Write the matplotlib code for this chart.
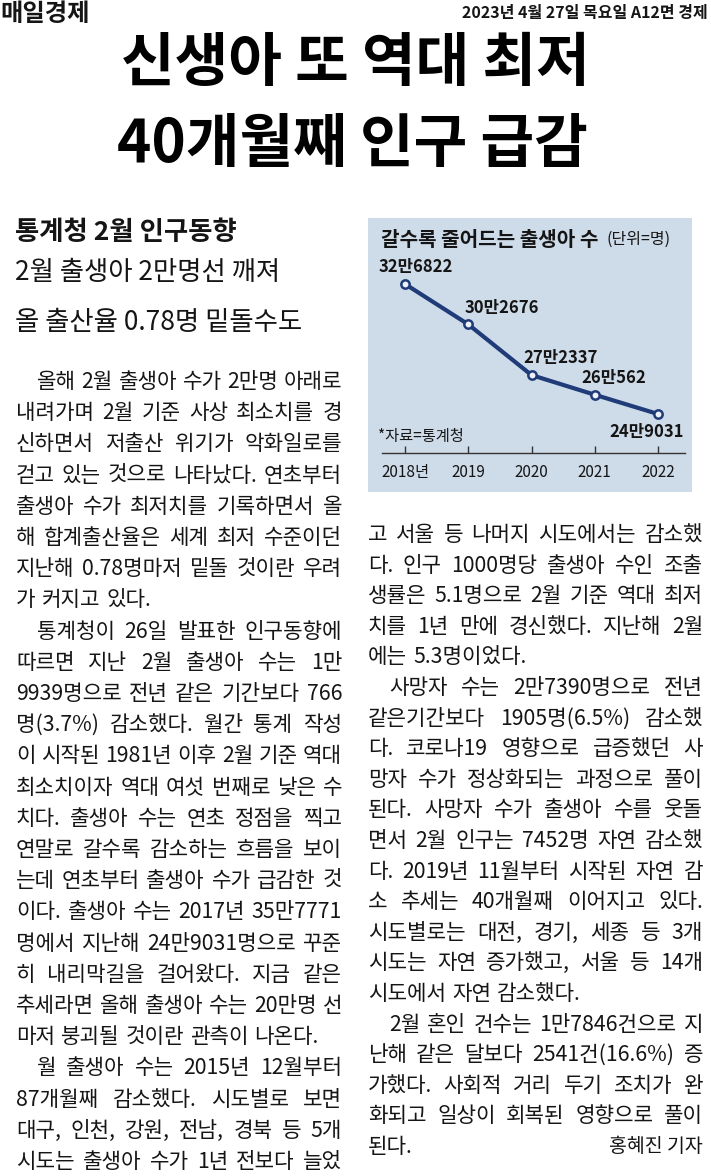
import matplotlib
matplotlib.use("Agg")
import matplotlib.pyplot as plt
from matplotlib.patches import Rectangle

plt.rcParams["font.family"] = ["Noto Sans CJK KR", "DejaVu Sans"]

# 차트 데이터 (단위=명)
years = [2018, 2019, 2020, 2021, 2022]
year_labels = ["2018년", "2019", "2020", "2021", "2022"]
births = [326822, 302676, 272337, 260562, 249031]
birth_labels = ["32만6822", "30만2676", "27만2337", "26만562", "24만9031"]

# 기사 본문 (단락 단위, 신문 줄바꿈 그대로)
left_paragraphs = [
    ["올해 2월 출생아 수가 2만명 아래로",
     "내려가며 2월 기준 사상 최소치를 경",
     "신하면서 저출산 위기가 악화일로를",
     "걷고 있는 것으로 나타났다. 연초부터",
     "출생아 수가 최저치를 기록하면서 올",
     "해 합계출산율은 세계 최저 수준이던",
     "지난해 0.78명마저 밑돌 것이란 우려",
     "가 커지고 있다."],
    ["통계청이 26일 발표한 인구동향에",
     "따르면 지난 2월 출생아 수는 1만",
     "9939명으로 전년 같은 기간보다 766",
     "명(3.7%) 감소했다. 월간 통계 작성",
     "이 시작된 1981년 이후 2월 기준 역대",
     "최소치이자 역대 여섯 번째로 낮은 수",
     "치다. 출생아 수는 연초 정점을 찍고",
     "연말로 갈수록 감소하는 흐름을 보이",
     "는데 연초부터 출생아 수가 급감한 것",
     "이다. 출생아 수는 2017년 35만7771",
     "명에서 지난해 24만9031명으로 꾸준",
     "히 내리막길을 걸어왔다. 지금 같은",
     "추세라면 올해 출생아 수는 20만명 선",
     "마저 붕괴될 것이란 관측이 나온다."],
    ["월 출생아 수는 2015년 12월부터",
     "87개월째 감소했다. 시도별로 보면",
     "대구, 인천, 강원, 전남, 경북 등 5개",
     "시도는 출생아 수가 1년 전보다 늘었"],
]
right_paragraphs = [
    ["고 서울 등 나머지 시도에서는 감소했",
     "다. 인구 1000명당 출생아 수인 조출",
     "생률은 5.1명으로 2월 기준 역대 최저",
     "치를 1년 만에 경신했다. 지난해 2월",
     "에는 5.3명이었다."],
    ["사망자 수는 2만7390명으로 전년",
     "같은기간보다 1905명(6.5%) 감소했",
     "다. 코로나19 영향으로 급증했던 사",
     "망자 수가 정상화되는 과정으로 풀이",
     "된다. 사망자 수가 출생아 수를 웃돌",
     "면서 2월 인구는 7452명 자연 감소했",
     "다. 2019년 11월부터 시작된 자연 감",
     "소 추세는 40개월째 이어지고 있다.",
     "시도별로는 대전, 경기, 세종 등 3개",
     "시도는 자연 증가했고, 서울 등 14개",
     "시도에서 자연 감소했다."],
    ["2월 혼인 건수는 1만7846건으로 지",
     "난해 같은 달보다 2541건(16.6%) 증",
     "가했다. 사회적 거리 두기 조치가 완",
     "화되고 일상이 회복된 영향으로 풀이",
     "된다."],
]

W, H = 711, 1176
INK = "#151515"
NAVY = "#1f3b78"
BODY_FS = 15.3
MIN_GAP = 3.5

fig = plt.figure(figsize=(W / 100, H / 100), dpi=100)
page = fig.add_axes([0, 0, 1, 1])
page.set_xlim(0, W)
page.set_ylim(H, 0)
page.axis("off")
renderer = fig.canvas.get_renderer()

# 머리글 / 제목
page.text(0, 14, "매일경제", fontsize=17.5, fontweight="bold", color=INK,
          ha="left", va="center")
page.text(708, 13, "2023년 4월 27일 목요일 A12면 경제", fontsize=11.5,
          fontweight="bold", color=INK, ha="right", va="center")
page.text(355, 64, "신생아 또 역대 최저", fontsize=42, fontweight="bold",
          color="black", ha="center", va="center")
page.text(352, 145, "40개월째 인구 급감", fontsize=42, fontweight="bold",
          color="black", ha="center", va="center")
page.text(15, 232, "통계청 2월 인구동향", fontsize=19, fontweight="bold",
          color=INK, va="center")
page.text(15, 272, "2월 출생아 2만명선 깨져", fontsize=19, color=INK,
          va="center")
page.text(15, 322, "올 출산율 0.78명 밑돌수도", fontsize=19, color=INK,
          va="center")


def set_line(line, x0, x1, y, justify):
    words = line.split(" ")
    items = [page.text(0, y, w, fontsize=BODY_FS, color=INK, ha="left",
                       va="center") for w in words]
    widths = [t.get_window_extent(renderer).width for t in items]
    room = x1 - x0 - MIN_GAP * (len(items) - 1)
    if sum(widths) > room:
        # 너무 긴 줄은 글자 크기를 살짝 줄여 단 폭에 맞춘다
        k = room / sum(widths)
        for t in items:
            t.set_fontsize(BODY_FS * k)
        widths = [t.get_window_extent(renderer).width for t in items]
    gap = 6.0
    if justify and len(items) > 1:
        gap = (x1 - x0 - sum(widths)) / (len(items) - 1)
    x = x0
    for t, w in zip(items, widths):
        t.set_x(x)
        x += w + gap


def set_column(paragraphs, x0, x1, y0, dy, first_indent=True, last_open=False):
    i = 0
    for pi, para in enumerate(paragraphs):
        for li, line in enumerate(para):
            indent = 21 if (li == 0 and (pi > 0 or first_indent)) else 0
            is_last = li == len(para) - 1
            if pi == len(paragraphs) - 1 and last_open:
                is_last = False
            set_line(line, x0 + indent, x1, y0 + i * dy, not is_last)
            i += 1
    return i


set_column(left_paragraphs, 16, 342, 382, 31.2, last_open=True)
n = set_column(right_paragraphs, 368, 703, 535, 30.6, first_indent=False)
page.text(703, 535 + (n - 1) * 30.6, "홍혜진 기자", fontsize=14, color=INK,
          ha="right", va="center")

# 그래픽: 갈수록 줄어드는 출생아 수
page.add_patch(Rectangle((368, 218), 324, 274, facecolor="#cedbe9",
                         edgecolor="none", zorder=0))
page.text(381, 239, "갈수록 줄어드는 출생아 수", fontsize=14.5, fontweight="bold",
          color=INK, va="center")
page.text(607, 239, "(단위=명)", fontsize=11.5, color=INK, va="center")
page.text(378, 436, "*자료=통계청", fontsize=11, color=INK, va="center")

ax = fig.add_axes([382 / W, 1 - 453 / H, (685 - 382) / W, (453 - 260) / H])
ax.patch.set_alpha(0)
ax.plot(years, births, color=NAVY, lw=3, marker="o", ms=6, mfc="#eef2f8",
        mec=NAVY, mew=1.8, solid_capstyle="round", clip_on=False, zorder=3)
offsets = [(8, 12), (24, 12), (21, 12), (14, 12), (-8, -13)]
for x, v, lab, off in zip(years, births, birth_labels, offsets):
    ax.annotate(lab, (x, v), xytext=off, textcoords="offset points",
                ha="center", va="center", fontsize=12, fontweight="bold",
                color=INK)
ax.set_xlim(2017.636, 2022.427)
ax.set_ylim(225700, 341200)
for s in ("top", "right", "left"):
    ax.spines[s].set_visible(False)
ax.spines["bottom"].set_color("#333333")
ax.spines["bottom"].set_linewidth(1.0)
ax.set_yticks([])
ax.set_xticks(years)
ax.set_xticklabels(year_labels, fontsize=11, color=INK)
ax.tick_params(axis="x", direction="in", length=5, width=1, color="#333333",
               pad=8)

fig.savefig("out.png", dpi=100, facecolor="white")
